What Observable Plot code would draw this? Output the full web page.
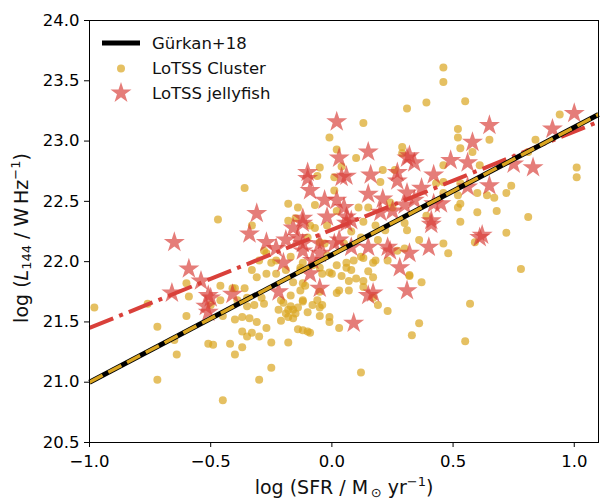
<!DOCTYPE html>
<html><head><meta charset="utf-8">
<script src="https://cdn.jsdelivr.net/npm/d3@7"></script>
<script src="https://cdn.jsdelivr.net/npm/@observablehq/plot@0.6"></script>
<style>body{margin:0;background:#fff;} #chart svg{font-family:"DejaVu Sans";}</style>
</head><body><div id="chart"></div>
<script>
// LoTSS cluster galaxies: log SFR and log L144
const clusterSFR = [-0.98,-0.72,-0.64,-0.72,-0.45,-0.60,-0.51,-0.49,-0.40,-0.37,
 -0.30,-0.25,-0.25,-0.18,-0.30,-0.33,-0.35,-0.37,-0.27,-0.31,
 -0.37,-0.40,-0.32,-0.35,-0.28,-0.14,-0.10,-0.09,-0.18,-0.16,
 -0.18,-0.16,-0.20,-0.12,-0.13,-0.11,-0.05,-0.05,-0.01,0.03,
 0.02,0.07,0.00,-0.04,-0.05,-0.08,-0.13,-0.12,-0.19,-0.23,
 -0.29,-0.35,-0.41,-0.45,-0.46,-0.60,-0.59,-0.76,-0.33,-0.30,
 -0.28,-0.23,0.06,0.07,-0.17,-0.01,0.02,0.04,-0.05,-0.06,
 -0.36,-0.47,-0.18,-0.14,-0.18,-0.15,-0.07,-0.02,-0.03,0.02,
 -0.33,-0.31,-0.25,-0.17,-0.13,-0.12,-0.01,0.03,-0.40,0.01,
 -0.09,0.46,0.46,0.39,0.55,0.31,0.13,0.10,0.52,0.52,
 0.53,0.58,0.65,0.61,0.29,0.29,0.94,1.01,1.01,0.84,
 0.21,0.20,0.46,0.46,0.52,0.60,0.64,0.74,0.72,0.67,
 0.68,0.60,0.53,0.53,0.72,0.81,0.78,0.59,0.46,0.48,
 0.36,0.37,0.32,0.13,0.18,0.23,0.19,0.11,0.15,0.01,
 -0.07,0.24,0.31,0.27,0.22,-0.05,0.05,0.57,0.55,0.36,
 0.33,0.23,0.19,0.12,-0.04,-0.12,-0.12,0.13,0.17,0.13,
 0.17,0.81,0.46,0.26,0.43,0.53,0.25,0.52,0.13,0.30,
 0.39,-0.27,-0.27,-0.16,-0.06,-0.01,-0.21,-0.21,-0.34,-0.39,
 -0.36,-0.46,-0.50,-0.65,-0.42,0.06,0.09,0.12,0.17,0.30,
 0.32,-0.05,-0.19,-0.15,-0.17,-0.22,-0.14,-0.10,-0.08,0.04,
 0.08,0.10,0.15,0.02,0.08,0.12,0.18,-0.10,-0.02];
const clusterL = [21.62,21.46,21.23,21.02,20.85,21.55,21.32,21.31,21.23,21.29,
 21.02,21.12,21.33,21.33,21.38,21.41,21.38,21.42,21.45,21.50,
 21.54,21.52,21.64,21.63,21.65,21.44,21.42,21.41,21.54,21.53,
 21.60,21.60,21.66,21.67,21.76,21.80,21.55,21.62,21.50,21.45,
 21.74,21.76,21.90,21.90,21.95,21.97,21.93,21.99,21.93,21.90,
 21.70,21.70,21.78,21.55,21.80,21.82,21.71,21.65,21.93,22.01,
 22.09,22.01,21.95,21.84,21.72,23.03,22.93,22.79,22.78,22.71,
 22.61,22.35,22.48,22.45,22.34,22.36,22.28,22.30,22.15,22.42,
 22.30,21.87,21.99,22.04,21.95,21.82,21.91,21.76,21.78,22.70,
 22.30,23.61,23.49,23.32,23.33,23.27,23.15,22.86,23.10,23.03,
 22.94,22.91,23.01,22.80,22.95,22.90,23.22,22.78,22.70,23.01,
 22.76,22.66,22.66,22.57,22.55,22.57,22.55,22.63,22.57,22.53,
 22.42,22.41,22.33,22.48,22.24,22.37,21.94,22.16,22.15,22.07,
 22.18,21.83,21.88,21.84,22.01,22.01,22.18,22.45,22.45,22.59,
 22.47,22.49,22.26,22.09,22.26,22.16,22.15,21.65,21.34,21.49,
 21.39,21.59,21.64,21.08,21.64,21.43,21.68,21.79,21.70,22.03,
 21.87,22.91,22.80,22.76,22.65,22.65,22.45,22.45,22.33,22.32,
 22.38,22.07,21.90,21.83,21.68,21.54,21.68,21.51,21.53,21.68,
 21.78,21.68,21.64,21.35,21.32,21.99,22.01,22.04,21.99,22.11,
 21.89,21.75,21.57,21.57,21.63,21.60,21.62,21.58,21.64,21.88,
 21.93,21.86,21.92,21.97,22.25,22.20,22.30,22.20,22.05];
// LoTSS jellyfish galaxies
const jellySFR = [-0.65,-0.59,-0.54,-0.66,-0.51,-0.41,-0.52,-0.51,-0.22,-0.05,
 -0.34,-0.27,-0.14,-0.12,0.09,0.02,0.03,-0.10,-0.10,-0.09,
 -0.03,0.02,0.04,-0.31,-0.16,-0.12,-0.20,-0.12,-0.05,0.03,
 0.06,0.05,0.15,0.31,0.34,0.27,0.42,0.49,0.58,0.65,
 0.56,0.16,0.06,0.15,0.21,0.31,0.34,0.42,0.65,0.75,
 0.83,0.91,1.00,0.62,0.41,0.40,0.32,0.28,0.31,0.15,
 0.23,0.17,0.06,-0.12,0.25,0.20,-0.05,0.15,0.24,0.08,
 0.01,0.61,0.56,0.45,-0.23,-0.08,-0.09,0.32,0.27,0.37,
 0.41,-0.02,0.08,0.30,-0.19,-0.50];
const jellyL = [22.16,21.94,21.84,21.74,21.72,21.73,21.63,21.58,21.75,21.78,
 22.23,22.16,22.20,22.15,21.49,23.16,22.86,22.74,22.69,22.59,
 22.51,22.51,22.70,22.40,22.28,22.36,21.99,22.09,22.15,22.18,
 22.32,22.45,22.91,22.86,22.82,22.74,22.72,22.84,22.99,23.13,
 22.82,22.72,22.71,22.56,22.52,22.57,22.51,22.48,22.63,22.81,
 22.78,23.10,23.23,22.22,22.31,22.12,22.07,21.95,21.76,22.12,
 22.12,21.74,22.37,22.32,22.42,22.41,22.07,21.72,22.09,22.12,
 22.15,22.20,22.62,22.48,22.11,22.01,21.90,22.88,22.67,22.61,
 22.34,22.37,22.34,22.47,22.18,21.70];
// Relations (end points over the plotted SFR range)
const fitSFR = [-1.0, 1.1];
const gurkanL = [21.00, 23.22];
const clusterFitL = [21.00, 23.22];
const jellyFitL = [21.45, 23.16];
const xTicks = [-1.0, -0.5, 0.0, 0.5, 1.0];
const yTicks = [20.5, 21.0, 21.5, 22.0, 22.5, 23.0, 23.5, 24.0];

const cluster = clusterSFR.map((x, i) => ({x, y: clusterL[i]}));
const jelly = jellySFR.map((x, i) => ({x, y: jellyL[i]}));
const gurkan = fitSFR.map((x, i) => ({x, y: gurkanL[i]}));
const clusterFit = fitSFR.map((x, i) => ({x, y: clusterFitL[i]}));
const jellyFit = fitSFR.map((x, i) => ({x, y: jellyFitL[i]}));

const GOLD = "#daa520", RED = "#d9403a", STAR_R = 6.6;
const fmt = d3.format(".1f");

const chart = Plot.plot({
  width: 600, height: 500,
  marginLeft: 89, marginRight: 2, marginTop: 20, marginBottom: 58,
  style: {fontFamily: "DejaVu Sans", fontSize: "16.5px", color: "black", background: "white"},
  x: {domain: [-1.0, 1.1], label: null},
  y: {domain: [20.5, 24.0], label: null},
  marks: [
    Plot.dot(cluster, {x: "x", y: "y", r: 4, fill: GOLD, fillOpacity: 0.7, stroke: null}),
    Plot.dot(jelly, {x: "x", y: "y", r: STAR_R, symbol: "star", fill: RED, fillOpacity: 0.68, stroke: null}),
    Plot.line(jellyFit, {x: "x", y: "y", stroke: RED, strokeWidth: 4, strokeDasharray: "25.6,6.4,4,6.4", strokeLinecap: "butt"}),
    Plot.line(gurkan, {x: "x", y: "y", stroke: "black", strokeWidth: 5, strokeLinecap: "butt"}),
    Plot.line(clusterFit, {x: "x", y: "y", stroke: GOLD, strokeWidth: 3.4, strokeDasharray: "14.8,6.4", strokeLinecap: "butt"}),
    Plot.frame({stroke: "black", strokeWidth: 1}),
    Plot.axisX({ticks: xTicks, tickFormat: fmt, tickSize: 5, tickPadding: 8, label: null}),
    Plot.axisY({ticks: yTicks, tickFormat: fmt, tickSize: 5, tickPadding: 5, label: null})
  ]
});
document.getElementById("chart").append(chart);

const svg = d3.select(chart);
// legend
const lg = svg.append("g").attr("font-family", "DejaVu Sans").attr("font-size", "16.5px")
  .attr("text-anchor", "start");
lg.append("line").attr("x1", 102).attr("x2", 140).attr("y1", 43).attr("y2", 43)
  .attr("stroke", "black").attr("stroke-width", 5);
lg.append("circle").attr("cx", 121).attr("cy", 68.5).attr("r", 4)
  .attr("fill", GOLD).attr("fill-opacity", 0.7);
lg.append("path").attr("d", d3.symbol(d3.symbolStar, Math.PI * STAR_R * STAR_R)())
  .attr("transform", "translate(121,93)").attr("fill", RED).attr("fill-opacity", 0.68);
const legendLabels = ["Gürkan+18", "LoTSS Cluster", "LoTSS jellyfish"];
legendLabels.forEach((t, i) => {
  lg.append("text").attr("x", 152).attr("y", 43 + i * 25).attr("dy", "0.36em")
    .attr("fill", "#111").text(t);
});

// axis labels
const xl = svg.append("text").attr("x", 344).attr("y", 494).attr("text-anchor", "middle")
  .attr("font-family", "DejaVu Sans").attr("font-size", "19px").attr("fill", "#111");
xl.append("tspan").text("log (SFR / M");
xl.append("tspan").attr("font-size", "13px").attr("dy", 3).text("\u2009\u2299");
xl.append("tspan").attr("dy", -3).text(" yr");
xl.append("tspan").attr("font-size", "13px").attr("dy", -8).text("\u22121");
xl.append("tspan").attr("dy", 8).text(")");

const yl = svg.append("text").attr("transform", "translate(28,238) rotate(-90)").attr("text-anchor", "middle")
  .attr("font-family", "DejaVu Sans").attr("font-size", "19px").attr("fill", "#111");
yl.append("tspan").text("log (");
yl.append("tspan").attr("font-style", "italic").text("L");
yl.append("tspan").attr("font-size", "13px").attr("dy", 3).text("144");
yl.append("tspan").attr("dy", -3).text(" / W\u2009Hz");
yl.append("tspan").attr("font-size", "13px").attr("dy", -8).text("\u22121");
yl.append("tspan").attr("dy", 8).text(")");
</script>
</body></html>
